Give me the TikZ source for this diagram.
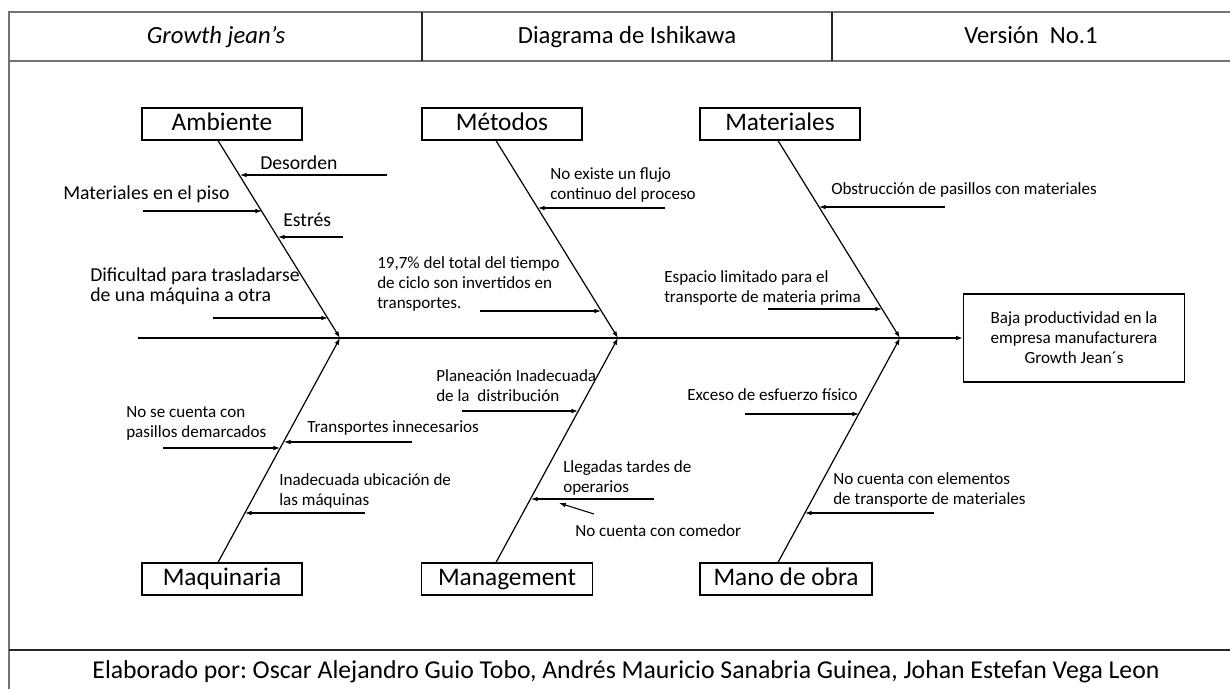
\documentclass[tikz,border=0pt]{standalone}
\usepackage{fontspec}
\setmainfont{Carlito}
\usetikzlibrary{arrows.meta}
\frenchspacing

\begin{document}
\begin{tikzpicture}[x=0.75pt, y=-0.75pt,
        frame/.style={draw=black!55, line width=1.2pt},
        rule/.style={draw=black!85, line width=0.9pt},
        head/.style={inner sep=0pt, text height=13.5pt, text depth=4.5pt, font=\fontsize{18.5}{22}\selectfont},
        catbox/.style={draw, line width=0.9pt, minimum height=24pt, inner sep=0pt, text height=14pt, text depth=4.5pt, font=\fontsize{19}{22}\selectfont},
        effbox/.style={draw, line width=0.9pt, minimum width=166pt, minimum height=66pt, align=center, inner sep=0pt, font=\fontsize{12.8}{15}\selectfont},
        txt/.style={inner sep=0pt, anchor=west, align=left, font=\fontsize{12.8}{15}\selectfont},
        midtxt/.style={inner sep=0pt, anchor=west, align=left, font=\fontsize{14.8}{15}\selectfont},
        bone/.style={line width=0.9pt, -{Latex[length=5pt, width=3.5pt]}},
        cause/.style={line width=0.8pt, -{Latex[length=5pt, width=3.5pt]}}]
        \useasboundingbox (0,0) rectangle (1230,689);

        % Frame and header
        \draw[frame] (9,689) -- (9,12) -- (1230,12);
        \draw[frame] (9,61) -- (1230,61);
        \draw[rule] (422,12) -- (422,61);
        \draw[rule] (832,12) -- (832,61);
        \draw[rule] (9,650) -- (1230,650);

        \node[head, font=\fontsize{18.5}{22}\selectfont\itshape] (h1) at (216,37) {Growth jean’s};
        \node[head] (h2) at (627,37) {Diagrama de Ishikawa};
        \node[head] (h3) at (1031,37) {Versión\ \ No.1};
        \node[head, text height=14pt, text depth=4.7pt, font=\fontsize{19.3}{23}\selectfont] (foot) at (626,672) {Elaborado por: Oscar Alejandro Guio Tobo, Andrés Mauricio Sanabria Guinea, Johan Estefan Vega Leon};

        % Spine
        \coordinate (tail) at (138,338);
        \coordinate (j1) at (340,338);
        \coordinate (j2) at (618,338);
        \coordinate (j3) at (900,338);
        \node[effbox] (eff) at (1074,338) {Baja productividad en la\\empresa manufacturera\\Growth Jean´s};
        \draw[bone] (tail) -- (eff);

        % Top categories
        \node[catbox, minimum width=120pt] (amb) at (222,124) {Ambiente};
        \node[catbox, minimum width=120pt] (met) at (502,124) {Métodos};
        \node[catbox, minimum width=120pt] (mat) at (780,124) {Materiales};

        \draw[bone] ([xshift=-3pt]amb.south) -- (j1);
        \draw[bone] ([xshift=-4.5pt]met.south) -- (j2);
        \draw[bone] ([xshift=-1.5pt]mat.south) -- (j3);

        % Bottom categories
        \node[catbox, minimum width=120pt] (maq) at (222,579) {Maquinaria};
        \node[catbox, minimum width=128pt] (man) at (507,579) {Management};
        \node[catbox, minimum width=129pt] (mob) at (786,579) {Mano de obra};

        \draw[bone] ([xshift=-3pt]maq.north) -- (j1);
        \draw[bone] ([xshift=-8.25pt]man.north) -- (j2);
        \draw[bone] ([xshift=-6pt]mob.north) -- (j3);

        % Ambiente causes
        \node[midtxt] (t1) at (260,163) {Desorden};
        \node[midtxt] (t2) at (63,194) {Materiales en el piso};
        \node[midtxt] (t3) at (283,220) {Estrés};
        \node[midtxt] (t4) at (90,286) {Dificultad para trasladarse\\de una máquina a otra};
        \coordinate (a1) at (387,175); \coordinate (a1e) at (240,175);
        \coordinate (a2) at (143,211); \coordinate (a2e) at (262,211);
        \coordinate (a3) at (343,237); \coordinate (a3e) at (278,237);
        \coordinate (a4) at (213,318); \coordinate (a4e) at (328,318);
        \draw[cause] (a1) -- (a1e);
        \draw[cause] (a2) -- (a2e);
        \draw[cause] (a3) -- (a3e);
        \draw[cause] (a4) -- (a4e);

        % Metodos causes
        \node[txt] (t5) at (550,185) {No existe un flujo\\continuo del proceso};
        \node[txt] (t6) at (377,284) {19,7\% del total del tiempo\\de ciclo son invertidos en\\transportes.};
        \coordinate (m1) at (665,208); \coordinate (m1e) at (538,208);
        \coordinate (m2) at (480,311); \coordinate (m2e) at (601,311);
        \draw[cause] (m1) -- (m1e);
        \draw[cause] (m2) -- (m2e);

        % Materiales causes
        \node[txt] (t7) at (831,190) {Obstrucción de pasillos con materiales};
        \node[txt] (t8) at (664,288) {Espacio limitado para el\\transporte de materia prima};
        \coordinate (r1) at (945,207); \coordinate (r1e) at (819,207);
        \coordinate (r2) at (768,309); \coordinate (r2e) at (882,309);
        \draw[cause] (r1) -- (r1e);
        \draw[cause] (r2) -- (r2e);

        % Maquinaria causes
        \node[txt] (t9) at (126,423) {No se cuenta con\\pasillos demarcados};
        \node[txt] (t10) at (307,428) {Transportes innecesarios};
        \node[txt] (t11) at (279,491) {Inadecuada ubicación de\\las máquinas};
        \coordinate (q1) at (163,448); \coordinate (q1e) at (280,448);
        \coordinate (q2) at (412,442); \coordinate (q2e) at (284,442);
        \coordinate (q3) at (365,513); \coordinate (q3e) at (245,513);
        \draw[cause] (q1) -- (q1e);
        \draw[cause] (q2) -- (q2e);
        \draw[cause] (q3) -- (q3e);

        % Management causes
        \node[txt] (t12) at (436,386) {Planeación Inadecuada\\de la\ \ distribución};
        \node[txt] (t13) at (563,478) {Llegadas tardes de\\operarios};
        \node[txt] (t14) at (575,531) {No cuenta con comedor};
        \coordinate (g1) at (462,411); \coordinate (g1e) at (578,411);
        \coordinate (g2) at (654,499); \coordinate (g2e) at (531,499);
        \coordinate (g3) at (594,514); \coordinate (g3e) at (559,503);
        \draw[cause] (g1) -- (g1e);
        \draw[cause] (g2) -- (g2e);
        \draw[cause] (g3) -- (g3e);

        % Mano de obra causes
        \node[txt] (t15) at (687,395) {Exceso de esfuerzo físico};
        \node[txt] (t16) at (833,490) {No cuenta con elementos\\de transporte de materiales};
        \coordinate (o1) at (745,414); \coordinate (o1e) at (859,414);
        \coordinate (o2) at (934,513); \coordinate (o2e) at (805,513);
        \draw[cause] (o1) -- (o1e);
        \draw[cause] (o2) -- (o2e);
    \end{tikzpicture}
\end{document}
